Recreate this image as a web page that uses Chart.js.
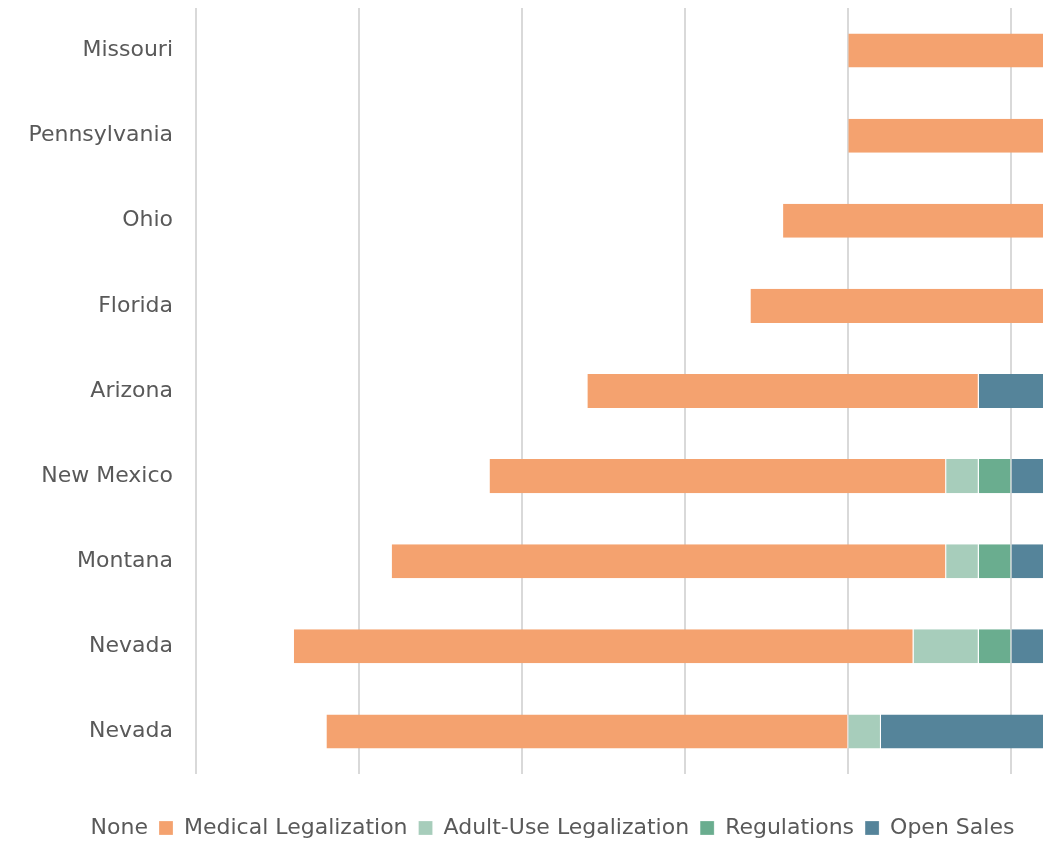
<!DOCTYPE html>
<html lang="en">
<head>
    <meta charset="UTF-8">
    <title>Legalization Timeline</title>
    <script src="https://cdn.jsdelivr.net/npm/chart.js"></script>
    <style>
        body {
            margin: 0;
            background: #fff;
        }
        #wrap {
            width: 1054px;
            height: 841px;
        }
    </style>
</head>
<body>
    <div id="wrap"><canvas id="chart"></canvas></div>

    <script>
        const states = ['Missouri', 'Pennsylvania', 'Ohio', 'Florida', 'Arizona', 'New Mexico', 'Montana', 'Nevada', 'Nevada'];
        const none = [20, 20, 18, 17, 12, 9, 6, 3, 4];
        const medical = [6, 6, 8, 9, 12, 14, 17, 19, 16];
        const adultUse = [0, 0, 0, 0, 0, 1, 1, 2, 1];
        const regulations = [0, 0, 0, 0, 0, 1, 1, 1, 0];
        const openSales = [0, 0, 0, 0, 2, 1, 1, 1, 5];

        const font = '"DejaVu Sans", sans-serif';
        const textColor = '#595959';

        function series(label, data, color) {
            return {
                label: label,
                data: data,
                backgroundColor: color,
                borderColor: color === 'transparent' ? 'transparent' : '#ffffff',
                borderWidth: color === 'transparent' ? 0 : { right: 1 },
                borderSkipped: false,
                categoryPercentage: 1,
                barPercentage: 0.4
            };
        }

        // nudge the legend a little to the right, like the original
        const legendShift = {
            id: 'legendShift',
            afterLayout(chart) {
                chart.legend.left += 18;
                chart.legend.right += 18;
            }
        };

        new Chart(document.getElementById('chart'), {
            type: 'bar',
            data: {
                labels: states,
                datasets: [
                    series('None', none, 'transparent'),
                    series('Medical Legalization', medical, '#F4A26F'),
                    series('Adult-Use Legalization', adultUse, '#A7CDBB'),
                    series('Regulations', regulations, '#6AAD8F'),
                    series('Open Sales', openSales, '#55849A')
                ]
            },
            options: {
                indexAxis: 'y',
                responsive: true,
                maintainAspectRatio: false,
                animation: false,
                layout: { padding: { top: 8, right: 10, bottom: -8, left: 0 } },
                plugins: {
                    tooltip: { enabled: false },
                    legend: {
                        position: 'bottom',
                        title: {
                            display: true,
                            text: '',
                            font: { size: 10 },
                            padding: { top: 0, bottom: 20 }
                        },
                        labels: {
                            font: { family: font, size: 22 },
                            color: textColor,
                            boxWidth: 14,
                            boxHeight: 14,
                            padding: 11
                        }
                    }
                },
                scales: {
                    x: {
                        stacked: true,
                        min: 0,
                        max: 26,
                        ticks: { display: false, stepSize: 5 },
                        afterBuildTicks: (scale) => {
                            scale.ticks = scale.ticks.filter(t => t.value % 5 === 0);
                        },
                        grid: { color: '#D9D9D9', lineWidth: 2, drawTicks: false },
                        border: { display: false }
                    },
                    y: {
                        stacked: true,
                        grid: { display: false },
                        border: { display: false },
                        ticks: {
                            font: { family: font, size: 22 },
                            color: textColor,
                            padding: 15
                        },
                        afterFit: (scale) => {
                            scale.width = 196;
                            scale.paddingTop = 0;
                            scale.paddingBottom = 0;
                        }
                    }
                }
            },
            plugins: [legendShift]
        });
    </script>
</body>
</html>
